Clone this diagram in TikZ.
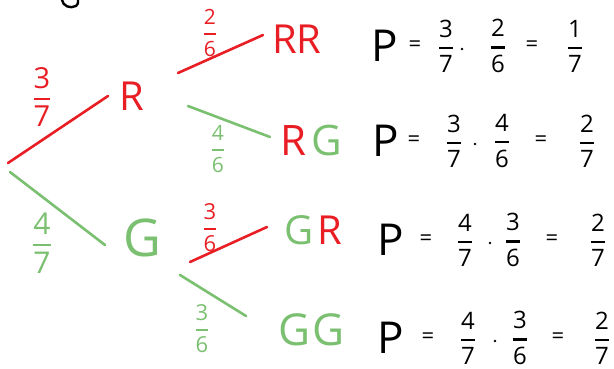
\documentclass[tikz,border=0pt]{standalone}
\usepackage{amsmath}
\usepackage{fontspec}
\setmainfont{Open Sans}
\definecolor{hred}{RGB}{232,30,36}
\definecolor{hgreen}{RGB}{122,192,112}
\newcommand{\hfr}[2]{$\genfrac{}{}{2.1pt}{0}{\text{#1}}{\text{#2}}$}
\begin{document}
\begin{tikzpicture}[x=1pt,y=-1pt,line cap=round,
  branch/.style={line width=2.6pt},
  big/.style={font=\fontsize{40}{44}\selectfont,inner sep=0pt},
  lab/.style={font=\fontsize{#1}{#1}\selectfont,inner sep=0pt},
  lab/.default=21,
  pp/.style={font=\fontsize{44}{48}\selectfont,inner sep=0pt},
  eq/.style={font=\fontsize{22}{26}\selectfont,inner sep=0pt},
  ff/.style={font=\fontsize{24}{26}\selectfont,inner sep=0pt},
  dotn/.style={circle,fill=black,inner sep=0pt,minimum size=2.6pt}]
\useasboundingbox (0,0) rectangle (614,369);
% fragment of heading
\draw[line width=2.4pt] (62,0) .. controls (63,6) and (70,9) .. (76,6) .. controls (78,4) .. (78,0);
% tree nodes
\coordinate (root) at (8,163);
\node[big,text=hred] (R) at (132,96) {R};
\node[big,text=hgreen,font=\fontsize{52}{56}\selectfont] (G) at (142,238) {G};
\node[big,text=hred] (RR) at (297,39) {RR};
\node[big,font=\fontsize{42}{46}\selectfont] (RG) at (311,140) {\color{hred}R\hspace{5pt}\color{hgreen}G};
\node[big] (GR) at (313,230) {\color{hgreen}G\hspace{4pt}\color{hred}R};
\node[big,text=hgreen,font=\fontsize{44}{48}\selectfont] (GG) at (312,330) {G\hspace{2pt}G};
% branches
\draw[branch,hred] (root) -- ([shift={(-24,0)}]R.center);
\draw[branch,hgreen] ([shift={(2,9)}]root) -- ([shift={(-37,7)}]G.center);
\draw[branch,hred] ([shift={(46,-23)}]R.center) -- ([shift={(-34,-4)}]RR.center);
\draw[branch,hgreen] ([shift={(56,10)}]R.center) -- ([shift={(-41,-3)}]RG.center);
\draw[branch,hred] ([shift={(48,24)}]G.center) -- ([shift={(-46,-3)}]GR.center);
\draw[branch,hgreen] ([shift={(38,37)}]G.center) -- ([shift={(-66,-14)}]GG.center);
% branch labels
\node[lab=29,text=hred] (l1) at (42,97) {\hfr{3}{7}};
\node[lab=30,text=hgreen] (l2) at (42,243) {\hfr{4}{7}};
\node[lab=21,text=hred] (l3) at (210,33) {\hfr{2}{6}};
\node[lab=21,text=hgreen] (l4) at (218,149) {\hfr{4}{6}};
\node[lab=22,text=hred] (l5) at (210,228) {\hfr{3}{6}};
\node[lab=22,text=hgreen] (l6) at (202,329) {\hfr{3}{6}};
% formulas
\foreach \i/\y/\xp/\xe/\xa/\xd/\xb/\xf/\xc/\na/\da/\nb/\db/\nc/\dc in {
  1/46/385/415/446/462/498/532/575/3/7/2/6/1/7,
  2/141/386/414/454/475/502/541/587/3/7/4/6/2/7,
  3/240/391/426/465/490/513/552/598/4/7/3/6/2/7,
  4/338/391/428/468/495/520/558/602/4/7/3/6/2/7}{
  \node[pp] (p\i) at (\xp,\y) {P};
  \node[eq] (ea\i) at (\xe,\y) {=};
  \node[ff] (fa\i) at (\xa,\y) {\hfr{\na}{\da}};
  \node[dotn] (d\i) at (\xd,\y+3) {};
  \node[ff] (fb\i) at (\xb,\y) {\hfr{\nb}{\db}};
  \node[eq] (eb\i) at (\xf,\y) {=};
  \node[ff] (fc\i) at (\xc,\y) {\hfr{\nc}{\dc}};
}
\end{tikzpicture}
\end{document}
